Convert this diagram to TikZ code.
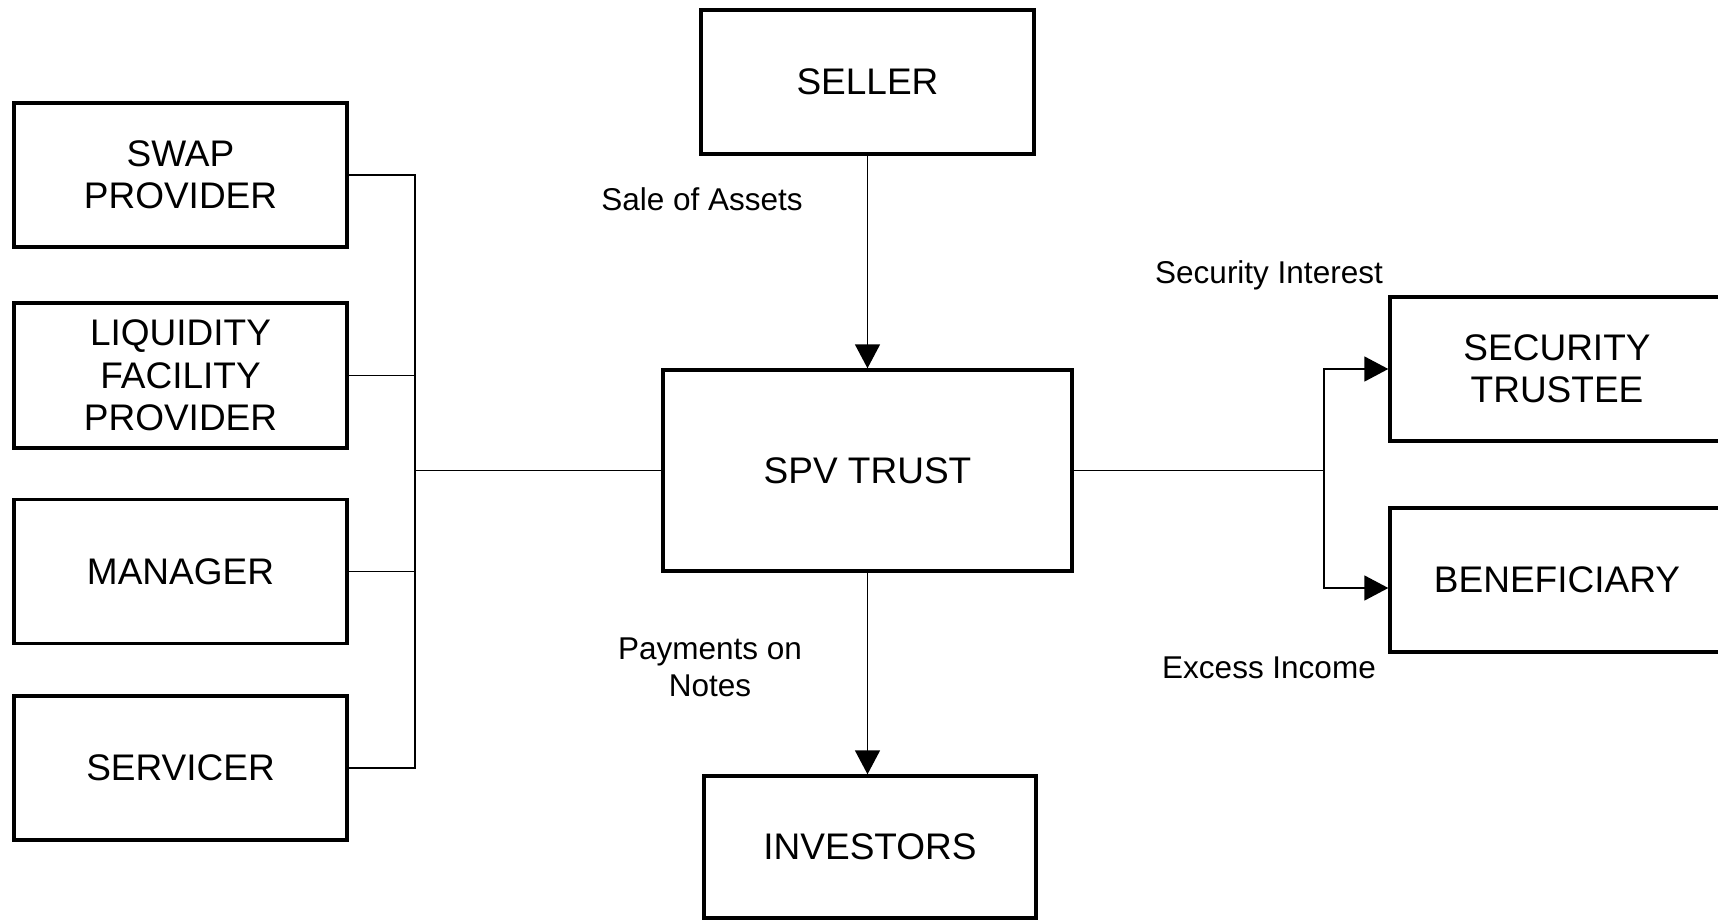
\documentclass[tikz,border=0pt]{standalone}
\usepackage{fontspec}
\setmainfont{Liberation Sans}
\usetikzlibrary{arrows.meta}
\begin{document}
\begin{tikzpicture}[x=1pt,y=-1pt,
  party/.style={draw, line width=3.4pt, inner sep=0pt, minimum width=333pt,
    minimum height=144pt, align=center, font=\fontsize{37}{42.5}\selectfont},
  wire/.style={line width=1.6pt},
  flow/.style={wire, -{Triangle[length=24pt,width=25pt]}},
  note/.style={inner sep=0pt, align=center, font=\fontsize{31.5}{37}\selectfont}]
\useasboundingbox (0,0) rectangle (1718,920);
\clip (0,0) rectangle (1718,920);
\fill[white] (0,0) rectangle (1718,920);

% support parties on the left
\node[party] (swap) at (180.5,175) {SWAP\\PROVIDER};
\node[party, minimum height=145pt] (liq) at (180.5,375.5) {LIQUIDITY\\FACILITY\\PROVIDER};
\node[party] (man) at (180.5,571.5) {MANAGER};
\node[party] (serv) at (180.5,768) {SERVICER};

% central column
\node[party] (seller) at (867.5,82) {SELLER};
\node[party, minimum width=409pt, minimum height=201pt] (spv) at (867.5,470.5) {SPV TRUST};
\node[party, minimum width=332pt, minimum height=142pt] (inv) at (870,847) {INVESTORS};

% parties on the right (boxes run past the right edge)
\node[party, minimum width=334pt] (st) at (1557,369) {SECURITY\\TRUSTEE};
\node[party, minimum width=334pt] (ben) at (1557,580) {BENEFICIARY};

% bus lines
\coordinate (busL) at (415,0);
\coordinate (busR) at (1324,0);

\draw[wire] (swap.east) -- (swap.east -| busL) -- (serv.east -| busL) -- (serv.east);
\draw[wire] (liq.east) -- (liq.east -| busL);
\draw[wire] (man.east) -- (man.east -| busL);
\draw[wire] (spv.west) -- (spv.west -| busL);

\draw[wire] (spv.east) -- (spv.east -| busR);
\draw[flow] (spv.east -| busR) |- (st.west);
\draw[flow] (spv.east -| busR) |- ([yshift=-8pt]ben.west);

% vertical flows
\draw[flow] (seller) -- (spv);
\draw[flow] (spv.south) -- (spv.south |- inv.north);

% flow labels
\node[note] (sale) at (702,199.5) {Sale of Assets};
\node[note] (pay) at (710,667.5) {Payments on\\Notes};
\node[note, anchor=base] (secint) at (1269,283) {Security Interest};
\node[note] (excess) at (1269,668) {Excess Income};
\end{tikzpicture}
\end{document}
